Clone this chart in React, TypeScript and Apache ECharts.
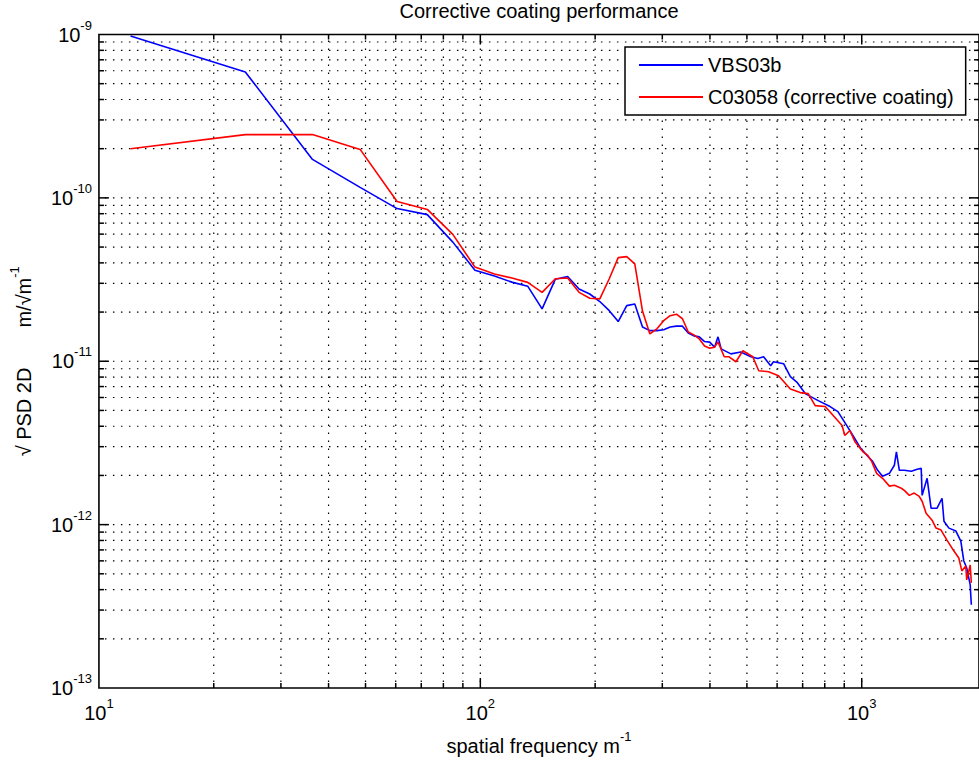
import React, { useEffect, useRef } from 'react';
import * as echarts from 'echarts';

const FONT = '"Liberation Sans", Arial, Helvetica, sans-serif';

const chartTitle = 'Corrective coating performance';
const seriesNames = ['VBS03b', 'C03058 (corrective coating)'];

// VBS03b (blue)
const vbsFreq = [
  12.1, 24.2, 36.3, 48.4, 60.5, 72.6, 84.7, 96.8, 108.9, 121, 133.1, 145.2, 157.3, 169.4, 181.5,
  193.6, 205.7, 217.8, 229.9, 242, 254.1, 266.2, 278.3, 290.4, 302.5, 314.6, 326.7, 338.8, 350.9,
  363, 375.1, 387.2, 399.3, 411.4,
  420, 428, 454, 482, 512, 534, 553, 577, 587, 624, 650, 678, 711, 769, 826, 866, 914, 948, 994,
  1037, 1068, 1101, 1134, 1182, 1218, 1233, 1255, 1293, 1349, 1398, 1432, 1440, 1484, 1520, 1576,
  1624, 1643, 1693, 1766, 1819, 1852, 1885, 1925, 1938,
];
const vbsPsd = [
  9.8e-10, 5.9e-10, 1.72e-10, 1.16e-10, 8.6e-11, 7.9e-11, 5.36e-11, 3.61e-11, 3.32e-11, 3.05e-11,
  2.88e-11, 2.09e-11, 3.18e-11, 3.3e-11, 2.77e-11, 2.58e-11, 2.32e-11, 2.04e-11, 1.75e-11, 2.19e-11,
  2.24e-11, 1.62e-11, 1.54e-11, 1.54e-11, 1.56e-11, 1.62e-11, 1.64e-11, 1.64e-11, 1.49e-11, 1.43e-11,
  1.41e-11, 1.32e-11, 1.31e-11, 1.22e-11,
  1.41e-11, 1.19e-11, 1.11e-11, 1.14e-11, 1.065e-11, 1.04e-11, 1.065e-11, 9.39e-12, 9.93e-12,
  9.66e-12, 8.04e-12, 7.39e-12, 6.34e-12, 5.74e-12, 5.28e-12, 4.92e-12, 4.04e-12, 3.51e-12,
  2.93e-12, 2.62e-12, 2.44e-12, 2.15e-12, 1.98e-12, 2.06e-12, 2.31e-12, 2.79e-12, 2.15e-12,
  2.15e-12, 2.12e-12, 2.18e-12, 2.21e-12, 1.51e-12, 1.92e-12, 1.26e-12, 1.26e-12, 1.45e-12,
  1.05e-12, 9.52e-13, 9.13e-13, 7.93e-13, 5.99e-13, 5.43e-13, 4.28e-13, 3.23e-13,
];

// C03058 (red)
const c03Freq = [
  12.1, 24.2, 36.3, 48.4, 60.5, 72.6, 84.7, 96.8, 108.9, 121, 133.1, 145.2, 157.3, 169.4, 181.5,
  193.6, 205.7, 217.8, 229.9, 242, 254.1, 266.2, 278.3, 290.4, 302.5, 314.6, 326.7, 338.8, 350.9,
  363, 375.1, 387.2, 399.3, 411.4,
  420, 436, 449, 468, 488, 518, 537, 570, 605, 650, 690, 724, 755, 802, 851, 888, 903, 931, 959,
  1006, 1037, 1062, 1094, 1134, 1182, 1218, 1270, 1293, 1333, 1373, 1415, 1440, 1475, 1529, 1566,
  1614, 1673, 1745, 1797, 1830, 1874, 1885, 1925, 1938,
];
const c03Psd = [
  2.0e-10, 2.44e-10, 2.44e-10, 1.98e-10, 9.5e-11, 8.5e-11, 5.98e-11, 3.77e-11, 3.42e-11, 3.23e-11,
  3.04e-11, 2.64e-11, 3.2e-11, 3.23e-11, 2.64e-11, 2.43e-11, 2.41e-11, 3.2e-11, 4.31e-11, 4.37e-11,
  3.94e-11, 2.03e-11, 1.47e-11, 1.58e-11, 1.77e-11, 1.9e-11, 1.94e-11, 1.82e-11, 1.51e-11, 1.45e-11,
  1.37e-11, 1.24e-11, 1.2e-11, 1.22e-11,
  1.315e-11, 1.065e-11, 1.065e-11, 9.93e-12, 1.16e-11, 1.065e-11, 8.75e-12, 8.63e-12, 8.16e-12,
  6.77e-12, 6.43e-12, 6.34e-12, 5.35e-12, 5.28e-12, 4.52e-12, 4.04e-12, 3.51e-12, 3.77e-12,
  3.23e-12, 2.8e-12, 2.65e-12, 2.44e-12, 2.06e-12, 1.92e-12, 1.72e-12, 1.74e-12, 1.67e-12,
  1.62e-12, 1.51e-12, 1.56e-12, 1.49e-12, 1.39e-12, 1.175e-12, 1.065e-12, 9.52e-13, 9.26e-13,
  8.04e-13, 6.89e-13, 6.25e-13, 5.21e-13, 5.58e-13, 4.59e-13, 5.66e-13, 4.4e-13,
];

// grid line positions (major + minor decades)
const xGridValues = [20, 30, 40, 50, 60, 70, 80, 90, 100, 200, 300, 400, 500, 600, 700, 800, 900, 1000];
const yGridValues = [
  2e-13, 3e-13, 4e-13, 5e-13, 6e-13, 7e-13, 8e-13, 9e-13, 1e-12,
  2e-12, 3e-12, 4e-12, 5e-12, 6e-12, 7e-12, 8e-12, 9e-12, 1e-11,
  2e-11, 3e-11, 4e-11, 5e-11, 6e-11, 7e-11, 8e-11, 9e-11, 1e-10,
  2e-10, 3e-10, 4e-10, 5e-10, 6e-10, 7e-10, 8e-10, 9e-10,
];

const X_MIN = 10;
const X_MAX = 2030;
const Y_MIN = 1e-13;
const Y_MAX = 1e-9;

const isMajor = (v: number) => {
  const l = Math.log10(v);
  return Math.abs(l - Math.round(l)) < 1e-6;
};

const supRich: any = {
  b: { fontSize: 20, lineHeight: 32, fontFamily: FONT, color: '#000' },
  sup: { fontSize: 13, lineHeight: 13, verticalAlign: 'top', fontFamily: FONT, color: '#000' },
  g: { width: 40 },
};

const powLabel = (v: number) => `{b|10}{sup|${Math.round(Math.log10(v))}}`;

const DOT = [1.5, 6.5];

export default function App() {
  const ref = useRef<HTMLDivElement>(null);

  useEffect(() => {
    if (!ref.current) return;
    const chart = echarts.init(ref.current, undefined, { renderer: 'svg' });

    const xGridSeries: any = {
      type: 'custom',
      silent: true,
      z: 1,
      data: xGridValues.map((v) => [v, 1e-11]),
      encode: { x: 0, y: 1 },
      renderItem: (params: any, api: any) => {
        const cs = params.coordSys;
        const v = api.value(0);
        const x = api.coord([v, 1e-11])[0];
        const len = isMajor(v) ? 10 : 5;
        const top = cs.y;
        const bottom = cs.y + cs.height;
        return {
          type: 'group',
          children: [
            { type: 'line', shape: { x1: x, y1: top, x2: x, y2: bottom }, style: { stroke: '#000', lineWidth: 1.2, lineDash: DOT, lineDashOffset: -6 } },
            { type: 'line', shape: { x1: x, y1: bottom, x2: x, y2: bottom - len }, style: { stroke: '#000', lineWidth: 1.5 } },
            { type: 'line', shape: { x1: x, y1: top, x2: x, y2: top + len }, style: { stroke: '#000', lineWidth: 1.5 } },
          ],
        };
      },
    };

    const yGridSeries: any = {
      type: 'custom',
      silent: true,
      z: 1,
      data: yGridValues.map((v) => [100, v]),
      encode: { x: 0, y: 1 },
      renderItem: (params: any, api: any) => {
        const cs = params.coordSys;
        const v = api.value(1);
        const y = api.coord([100, v])[1];
        const len = isMajor(v) ? 10 : 5;
        const left = cs.x;
        const right = cs.x + cs.width;
        return {
          type: 'group',
          children: [
            { type: 'line', shape: { x1: left, y1: y, x2: right, y2: y }, style: { stroke: '#000', lineWidth: 1.2, lineDash: DOT, lineDashOffset: -6 } },
            { type: 'line', shape: { x1: left, y1: y, x2: left + len, y2: y }, style: { stroke: '#000', lineWidth: 1.5 } },
            { type: 'line', shape: { x1: right, y1: y, x2: right - len, y2: y }, style: { stroke: '#000', lineWidth: 1.5 } },
          ],
        };
      },
    };

    const frameSeries: any = {
      type: 'custom',
      silent: true,
      z: 5,
      data: [[100, 1e-11]],
      encode: { x: 0, y: 1 },
      renderItem: (params: any) => {
        const cs = params.coordSys;
        return {
          type: 'rect',
          shape: { x: cs.x, y: cs.y, width: cs.width, height: cs.height },
          style: { fill: 'none', stroke: '#000', lineWidth: 1.6 },
        };
      },
    };

    const option: any = {
      animation: false,
      backgroundColor: '#fff',
      textStyle: { fontFamily: FONT },
      grid: {
        left: 97,
        top: 34.5,
        width: 889,
        height: 657,
        show: false,
        containLabel: false,
      },
      graphic: [
        {
          type: 'text',
          x: 539,
          y: 1,
          silent: true,
          style: {
            text: chartTitle,
            fontSize: 20,
            fontFamily: FONT,
            fill: '#000',
            textAlign: 'center',
            textVerticalAlign: 'top',
            align: 'center',
            verticalAlign: 'top',
          },
        },
      ],
      legend: {
        data: seriesNames,
        orient: 'vertical',
        left: 625,
        top: 47,
        padding: [8, 12, 8, 13],
        itemGap: 12,
        itemWidth: 64,
        itemHeight: 20,
        itemStyle: { opacity: 0 },
        backgroundColor: '#fff',
        borderColor: '#000',
        borderWidth: 1.5,
        borderRadius: 0,
        textStyle: { fontSize: 20, fontFamily: FONT, color: '#000' },
        z: 10,
      },
      xAxis: {
        type: 'log',
        logBase: 10,
        min: X_MIN,
        max: X_MAX,
        axisLine: { show: false },
        axisTick: { show: false },
        splitLine: { show: false },
        axisLabel: {
          margin: 9,
          showMaxLabel: false,
          formatter: powLabel,
          rich: supRich,
          fontSize: 20,
          color: '#000',
        },
        name: 'spatial frequency m{sup|-1}',
        nameLocation: 'middle',
        nameGap: 42,
        nameTextStyle: { fontSize: 20, fontFamily: FONT, color: '#000', lineHeight: 32, rich: supRich },
      },
      yAxis: {
        type: 'log',
        logBase: 10,
        min: Y_MIN,
        max: Y_MAX,
        axisLine: { show: false },
        axisTick: { show: false },
        splitLine: { show: false },
        axisLabel: {
          margin: 7,
          formatter: powLabel,
          rich: supRich,
          fontSize: 20,
          color: '#000',
        },
        name: '\u221A PSD 2D{g|}m/\u221Am{sup|-1}',
        nameLocation: 'middle',
        nameRotate: 90,
        nameGap: 55,
        nameTextStyle: { fontSize: 20, fontFamily: FONT, color: '#000', lineHeight: 32, rich: supRich },
      },
      series: [
        xGridSeries,
        yGridSeries,
        frameSeries,
        {
          name: seriesNames[0],
          type: 'line',
          data: vbsFreq.map((f, i) => [f, vbsPsd[i]]),
          symbol: 'none',
          showSymbol: false,
          lineStyle: { color: '#0000ff', width: 1.6 },
          itemStyle: { color: '#0000ff' },
          z: 3,
        },
        {
          name: seriesNames[1],
          type: 'line',
          data: c03Freq.map((f, i) => [f, c03Psd[i]]),
          symbol: 'none',
          showSymbol: false,
          lineStyle: { color: '#ff0000', width: 1.6 },
          itemStyle: { color: '#ff0000' },
          z: 4,
        },
      ],
    };

    chart.setOption(option);
    return () => chart.dispose();
  }, []);

  return (
    <div
      ref={ref}
      style={{ position: 'fixed', left: 0, top: 0, width: 979, height: 767, background: '#fff' }}
    />
  );
}
